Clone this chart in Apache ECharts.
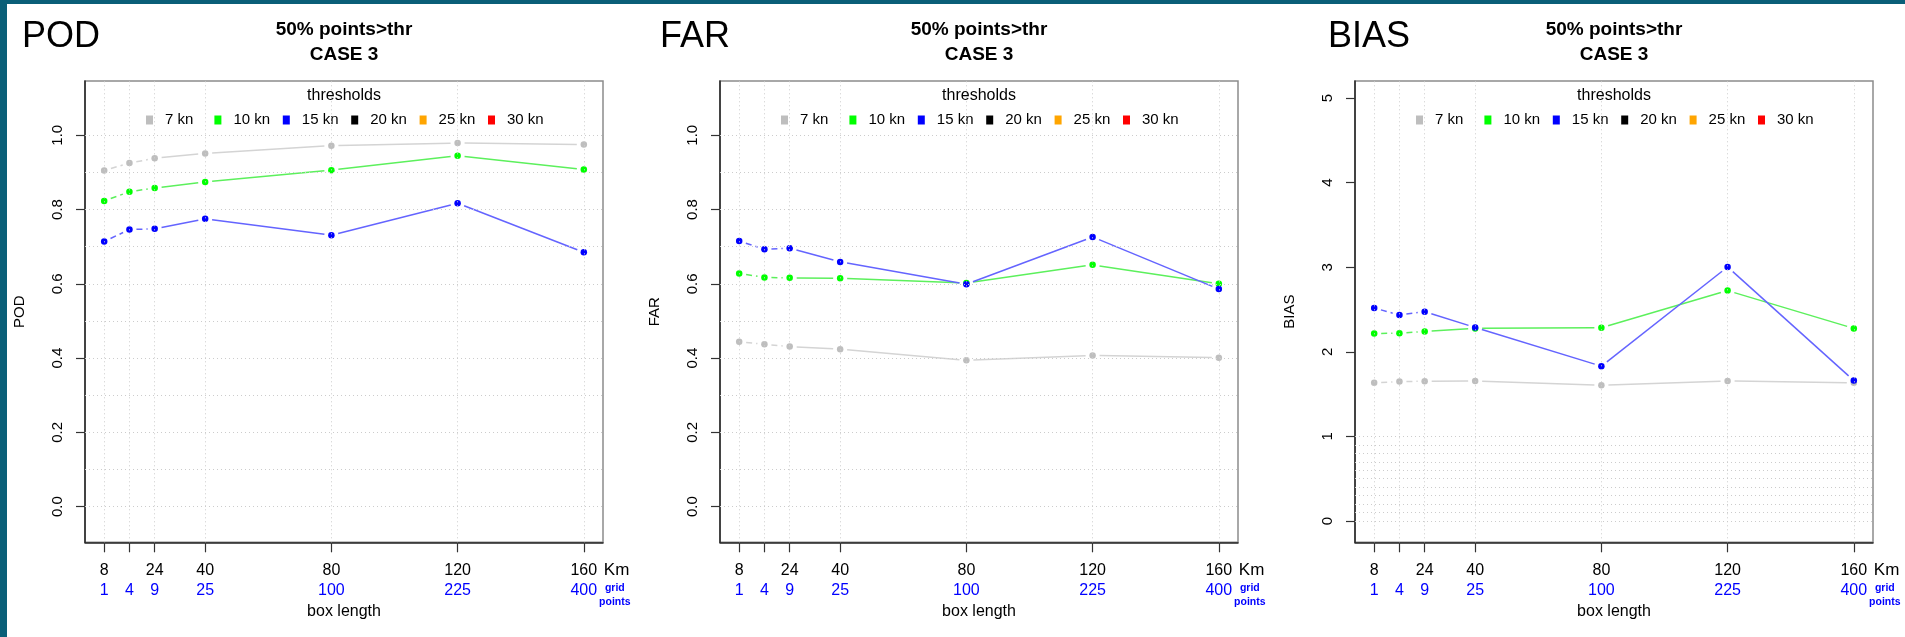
<!DOCTYPE html>
<html>
<head>
<meta charset="utf-8">
<script src="https://cdn.jsdelivr.net/npm/echarts@6/dist/echarts.min.js"></script>
<style>
  html, body { margin: 0; padding: 0; background: #0a5f78; overflow: hidden; }
  #sheet { position: absolute; left: 7px; top: 4px; right: 0; bottom: 0; background: #ffffff; }
  #chart { position: absolute; left: 0; top: 0; width: 1905px; height: 637px; }
</style>
</head>
<body>
<div id="sheet"></div>
<div id="chart"></div>
<script>
// Box length (km) on the x axis and the matching number of grid points
const boxLengthKm = [8, 16, 24, 40, 80, 120, 160];
const kmTickLabels = ['8', '', '24', '40', '80', '120', '160'];
const gridPointLabels = ['1', '4', '9', '25', '100', '225', '400'];

// Wind thresholds shown in the legend
const thresholdNames = ['7 kn', '10 kn', '15 kn', '20 kn', '25 kn', '30 kn'];
const thresholdColors = ['#bebebe', '#00ff00', '#0000ff', '#000000', '#ffa500', '#ff0000'];
const thresholdLineColors = ['#d4d4d4', '#5cf05c', '#6464ff'];

// Scores per box length (7, 10 and 15 kn thresholds)
const podKn7 = [0.905, 0.925, 0.938, 0.951, 0.972, 0.979, 0.975];
const podKn10 = [0.823, 0.848, 0.858, 0.874, 0.906, 0.945, 0.908];
const podKn15 = [0.714, 0.746, 0.748, 0.775, 0.731, 0.817, 0.685];

const farKn7 = [0.444, 0.437, 0.431, 0.424, 0.394, 0.407, 0.401];
const farKn10 = [0.628, 0.617, 0.616, 0.615, 0.602, 0.651, 0.600];
const farKn15 = [0.715, 0.693, 0.696, 0.659, 0.599, 0.726, 0.586];

const biasKn7 = [1.633, 1.648, 1.652, 1.656, 1.605, 1.656, 1.633];
const biasKn10 = [2.217, 2.221, 2.241, 2.277, 2.285, 2.724, 2.277];
const biasKn15 = [2.518, 2.435, 2.475, 2.288, 1.830, 3.004, 1.660];

// Axis ticks and dotted grid levels
const unitTicks = [0, 0.2, 0.4, 0.6, 0.8, 1.0];
const biasTicks = [0, 1, 2, 3, 4, 5];
const gridLevels = [0, 0.1, 0.2, 0.3, 0.4, 0.5, 0.6, 0.7, 0.8, 0.9, 1.0];

const FONT = '"Liberation Sans", Arial, Helvetica, sans-serif';
const X_MIN = 1.92, X_MAX = 166.08;
const PLOT_TOP = 81, PLOT_H = 461.3, PLOT_W = 518;

const panels = [
  { name: 'POD', nameLeft: 22, boxLeft: 85, values: [podKn7, podKn10, podKn15],
    yMin: -0.096, yMax: 1.146, ticks: unitTicks, digits: 1 },
  { name: 'FAR', nameLeft: 660, boxLeft: 720, values: [farKn7, farKn10, farKn15],
    yMin: -0.096, yMax: 1.146, ticks: unitTicks, digits: 1 },
  { name: 'BIAS', nameLeft: 1328, boxLeft: 1355, values: [biasKn7, biasKn10, biasKn15],
    yMin: -0.252, yMax: 5.202, ticks: biasTicks, digits: 0 }
];

// Line between consecutive points, left open around each point;
// the first two segments (finest boxes) are dashed.
function segmentRenderer(color) {
  const gap = 7;
  return function (params, api) {
    const p0 = api.coord([api.value(0), api.value(1)]);
    const p1 = api.coord([api.value(2), api.value(3)]);
    const dx = p1[0] - p0[0], dy = p1[1] - p0[1];
    const len = Math.sqrt(dx * dx + dy * dy);
    if (len <= 2 * gap) return null;
    const ux = dx / len, uy = dy / len;
    return {
      type: 'line',
      shape: { x1: p0[0] + ux * gap, y1: p0[1] + uy * gap, x2: p1[0] - ux * gap, y2: p1[1] - uy * gap },
      style: { stroke: color, lineWidth: 1.5, lineDash: api.value(4) ? [6, 4] : null, fill: null }
    };
  };
}

const grid = [], xAxis = [], yAxis = [], series = [], legend = [], title = [];

panels.forEach((p, i) => {
  const center = p.boxLeft + PLOT_W / 2;
  grid.push({
    left: p.boxLeft, top: PLOT_TOP, width: PLOT_W, height: PLOT_H,
    show: true, borderColor: '#8c8c8c', borderWidth: 1.5, backgroundColor: 'transparent',
    outerBoundsMode: 'none'
  });
  xAxis.push({
    gridIndex: i, type: 'value', min: X_MIN, max: X_MAX,
    splitLine: { show: false },
    axisLine: { show: true, onZero: false, lineStyle: { color: '#222', width: 1.5 } },
    axisTick: { show: true, customValues: boxLengthKm, length: 10, lineStyle: { color: '#333', width: 1.2 } },
    axisLabel: {
      customValues: boxLengthKm, margin: 18,
      formatter: v => {
        const k = boxLengthKm.indexOf(v);
        return '{k|' + (kmTickLabels[k] || ' ') + '}\n{g|' + gridPointLabels[k] + '}';
      },
      rich: {
        k: { fontSize: 16, color: '#000', lineHeight: 20, fontFamily: FONT },
        g: { fontSize: 16, color: '#0000ff', lineHeight: 20, fontFamily: FONT }
      }
    },
    name: 'box length', nameLocation: 'middle', nameGap: 59,
    nameTextStyle: { fontSize: 16, color: '#000', fontFamily: FONT }
  });
  yAxis.push({
    gridIndex: i, type: 'value', min: p.yMin, max: p.yMax,
    splitLine: { show: false },
    axisLine: { show: true, onZero: false, lineStyle: { color: '#222', width: 1.5 } },
    axisTick: { show: true, customValues: p.ticks, length: 9, lineStyle: { color: '#333', width: 1.2 } },
    axisLabel: {
      customValues: p.ticks, rotate: 90, margin: 20,
      formatter: v => Number(v).toFixed(p.digits),
      fontSize: 15, color: '#000', fontFamily: FONT
    },
    name: p.name, nameLocation: 'middle', nameGap: 58,
    nameTextStyle: { fontSize: 15, color: '#000', fontFamily: FONT }
  });

  // dotted reference grid
  series.push({
    type: 'line', xAxisIndex: i, yAxisIndex: i, data: [], silent: true, z: 1,
    markLine: {
      silent: true, symbol: 'none', animation: false, label: { show: false },
      lineStyle: { color: '#cccccc', width: 1, type: [1, 3] },
      data: boxLengthKm.map(v => ({ xAxis: v })).concat(gridLevels.map(v => ({ yAxis: v })))
    }
  });

  p.values.forEach((vals, t) => {
    const segments = [];
    for (let s = 0; s < vals.length - 1; s++) {
      segments.push([boxLengthKm[s], vals[s], boxLengthKm[s + 1], vals[s + 1], s < 2 ? 1 : 0]);
    }
    series.push({
      type: 'custom', xAxisIndex: i, yAxisIndex: i, z: 2, silent: true,
      renderItem: segmentRenderer(thresholdLineColors[t]),
      encode: { x: [0, 2], y: [1, 3] },
      data: segments
    });
  });
  thresholdNames.forEach((nm, t) => {
    const vals = p.values[t];
    series.push({
      type: 'scatter', name: nm, xAxisIndex: i, yAxisIndex: i, z: 3,
      symbol: 'circle', symbolSize: 6.5,
      itemStyle: { color: thresholdColors[t], opacity: 1 },
      data: vals ? boxLengthKm.map((x, k) => [x, vals[k]]) : []
    });
  });

  legend.push({
    data: thresholdNames, left: p.boxLeft + 61, top: 112.5, padding: 0,
    orient: 'horizontal', icon: 'rect', itemWidth: 7, itemHeight: 9, itemGap: 9.4,
    selectedMode: false,
    formatter: name => '{t|' + name + '}',
    textStyle: {
      rich: { t: { width: 40, padding: [0, 0, 0, 7], fontSize: 15, lineHeight: 16, color: '#000', fontFamily: FONT } }
    }
  });

  title.push({
    text: p.name, left: p.nameLeft, top: 18.7, padding: 0,
    textStyle: { fontSize: 36, fontWeight: 'normal', color: '#000', fontFamily: FONT, lineHeight: 36 }
  });
  title.push({
    text: '50% points>thr\nCASE 3', left: center, top: 17.4, padding: 0, textAlign: 'center',
    textStyle: { fontSize: 19, fontWeight: 'bold', color: '#000', fontFamily: FONT, lineHeight: 25 }
  });
  title.push({
    text: 'thresholds', left: center, top: 87.7, padding: 0, textAlign: 'center',
    textStyle: { fontSize: 16, fontWeight: 'normal', color: '#000', fontFamily: FONT, lineHeight: 16 }
  });
});

const chart = echarts.init(document.getElementById('chart'), null, { renderer: 'canvas' });
chart.setOption({
  animation: false,
  backgroundColor: 'transparent',
  textStyle: { fontFamily: FONT },
  grid, xAxis, yAxis, series, legend, title
});

// Unit notes next to the last box length tick
const notes = [];
panels.forEach((p, i) => {
  const lastX = chart.convertToPixel({ xAxisIndex: i }, boxLengthKm[boxLengthKm.length - 1]);
  const bottom = chart.convertToPixel({ yAxisIndex: i }, p.yMin);
  notes.push({
    type: 'text', x: lastX + 20, y: bottom + 28.4, silent: true,
    style: { text: 'Km', fontSize: 17, fill: '#000', fontFamily: FONT, align: 'left', verticalAlign: 'middle' }
  });
  notes.push({
    type: 'text', x: lastX + 31, y: bottom + 46, silent: true,
    style: { text: 'grid', fontSize: 10.5, fontWeight: 'bold', fill: '#0000ff', fontFamily: FONT, align: 'center', verticalAlign: 'middle' }
  });
  notes.push({
    type: 'text', x: lastX + 31, y: bottom + 59.7, silent: true,
    style: { text: 'points', fontSize: 10.5, fontWeight: 'bold', fill: '#0000ff', fontFamily: FONT, align: 'center', verticalAlign: 'middle' }
  });
});
chart.setOption({ graphic: notes });
</script>
</body>
</html>
